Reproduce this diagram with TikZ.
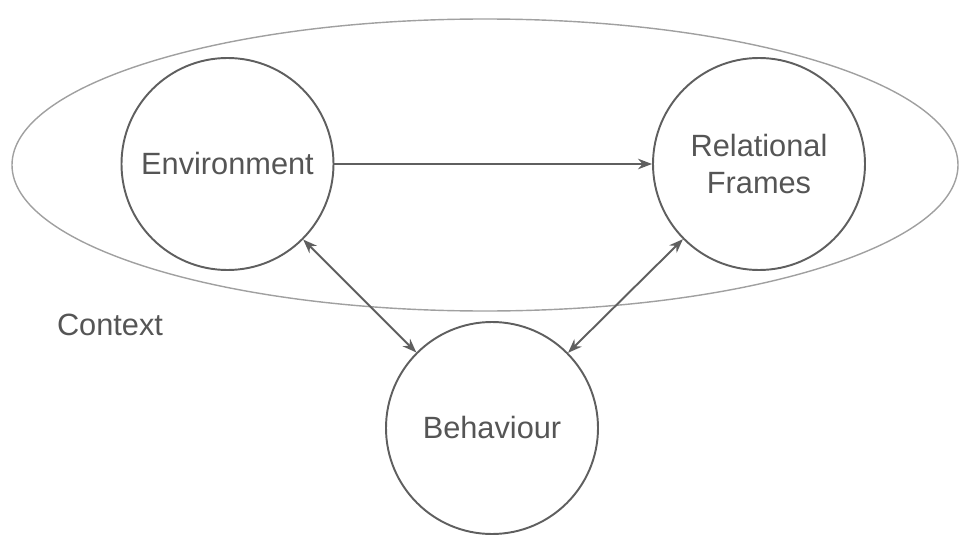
\documentclass[tikz,border=0pt]{standalone}
\usepackage{fontspec}
\setmainfont{Liberation Sans}
\usepackage{xcolor}
\usepackage{tikz}
\usetikzlibrary{shapes.geometric, arrows.meta, positioning}
\definecolor{linegray}{RGB}{95, 95, 95}
\definecolor{textgray}{RGB}{85, 85, 85}
\definecolor{contextgray}{RGB}{160, 160, 160}

\begin{document}
\begin{tikzpicture}[every node/.style={text=textgray, font=\fontsize{17.5}{20.5}\selectfont}]
        \useasboundingbox (0,0) rectangle (19.22,10.7);
        % Context ellipse round the two upper circles
        \node[draw=contextgray, line width=0.8pt, ellipse, minimum width=18.92cm, minimum height=5.84cm] (context) at (9.70,7.40) {};
        \node (contextlabel) at (2.2,4.2) {Context};

        \node[draw=linegray, line width=1.1pt, circle, minimum size=4.24cm, inner sep=0pt] (env) at (4.55,7.42) {Environment};
        \node[draw=linegray, line width=1.1pt, circle, minimum size=4.24cm, inner sep=0pt, align=center] (frames) at (15.18,7.42) {Relational\\Frames};
        \node[draw=linegray, line width=1.1pt, circle, minimum size=4.24cm, inner sep=0pt] (beh) at (9.84,2.14) {Behaviour};

        \draw[-{Stealth[length=8pt, width=6pt]}, line width=1.1pt, color=linegray] (env) -- (frames);
        \draw[{Stealth[length=8pt, width=6pt]}-{Stealth[length=8pt, width=6pt]}, line width=1.1pt, color=linegray] (env) -- (beh);
        \draw[{Stealth[length=8pt, width=6pt]}-{Stealth[length=8pt, width=6pt]}, line width=1.1pt, color=linegray] (frames) -- (beh);
    \end{tikzpicture}
\end{document}
